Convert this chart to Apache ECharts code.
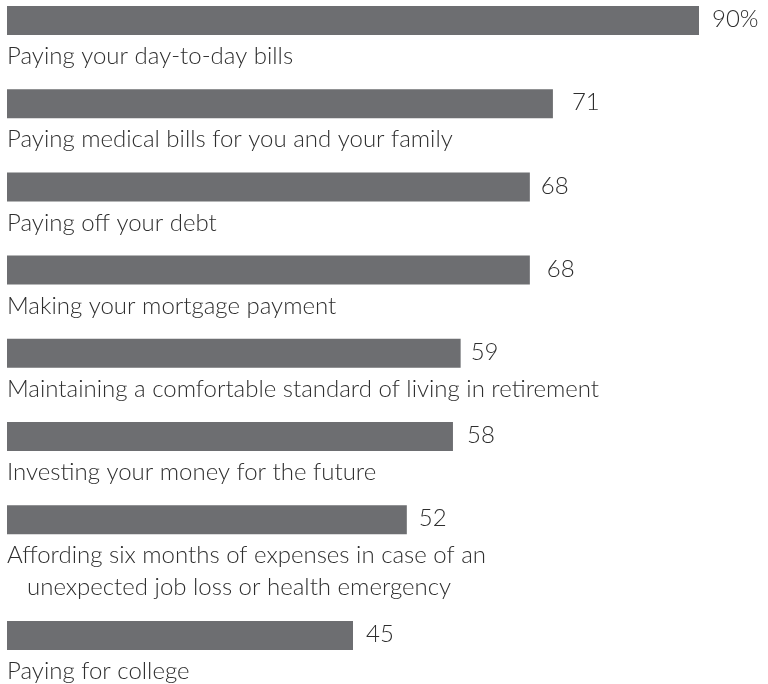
<!DOCTYPE html>
<html>
<head>
<meta charset="utf-8">
<title>Financial concerns</title>
<script src="https://cdn.jsdelivr.net/npm/echarts@6/dist/echarts.min.js"></script>
<style>
  html, body { margin: 0; padding: 0; background: #ffffff; }
  #chart { width: 768px; height: 684px; }
</style>
</head>
<body>
<div id="chart"></div>
<script>
// Share of respondents who are concerned about each item (percent)
const categories = [
  'Paying your day-to-day bills',
  'Paying medical bills for you and your family',
  'Paying off your debt',
  'Making your mortgage payment',
  'Maintaining a comfortable standard of living in retirement',
  'Investing your money for the future',
  'Affording six months of expenses in case of an\nunexpected job loss or health emergency',
  'Paying for college'
];
const values = [90, 71, 68, 68, 59, 58, 52, 45];

// Gap (px) between each bar end and its value label
const labelGaps = [13, 19, 11, 17, 10, 14, 12, 13];

// The last row sits below a two-line label, so it gets its own grid
const mainCount = 7;

const BAR_COLOR = '#6d6e71';
const TEXT_COLOR = '#2e2e2e';
const FONT = 'Lato';
const FONT_SIZE = 24;

function categoryLabel(value) {
  return value.split('\n')
    .map((line, i) => (i === 0 ? '{a|' + line + '}' : '{b|' + line + '}'))
    .join('\n');
}

const labelRich = {
  a: { fontFamily: FONT, fontSize: FONT_SIZE, fontWeight: 300, color: TEXT_COLOR, lineHeight: 32 },
  b: { fontFamily: FONT, fontSize: FONT_SIZE, fontWeight: 300, color: TEXT_COLOR, lineHeight: 32, padding: [0, 0, 0, 20] }
};

function yAxisFor(gridIndex, data, boundaryGap) {
  return {
    gridIndex: gridIndex,
    type: 'category',
    data: data,
    inverse: true,
    boundaryGap: boundaryGap,
    axisLine: { show: false },
    axisTick: { show: false },
    splitLine: { show: false },
    axisLabel: {
      show: true,
      inside: true,
      margin: 0,
      interval: 0,
      align: 'left',
      verticalAlign: 'top',
      padding: [20, 0, 0, 0],
      formatter: categoryLabel,
      rich: labelRich
    }
  };
}

function xAxisFor(gridIndex) {
  return { gridIndex: gridIndex, type: 'value', min: 0, max: 90, show: false };
}

function barSeries(index, data, offset) {
  return {
    type: 'bar',
    xAxisIndex: index,
    yAxisIndex: index,
    data: data.map((v, i) => ({
      value: v,
      label: { distance: labelGaps[i + offset] }
    })),
    barWidth: 29,
    itemStyle: { color: BAR_COLOR },
    label: {
      show: true,
      position: 'right',
      fontFamily: FONT,
      fontSize: FONT_SIZE,
      fontWeight: 300,
      color: TEXT_COLOR,
      offset: [0, -1],
      formatter: p => p.value + (p.dataIndex + offset === 0 ? '%' : '')
    }
  };
}

const chart = echarts.init(document.getElementById('chart'), null, { renderer: 'canvas' });
chart.setOption({
  backgroundColor: '#ffffff',
  animation: false,
  grid: [
    { left: 7, right: 69, top: 20.5, height: 499.2 },
    { left: 7, right: 69, top: 621, height: 29 }
  ],
  xAxis: [xAxisFor(0), xAxisFor(1)],
  yAxis: [
    yAxisFor(0, categories.slice(0, mainCount), false),
    yAxisFor(1, categories.slice(mainCount), true)
  ],
  series: [
    barSeries(0, values.slice(0, mainCount), 0),
    barSeries(1, values.slice(mainCount), mainCount)
  ]
});
</script>
</body>
</html>
